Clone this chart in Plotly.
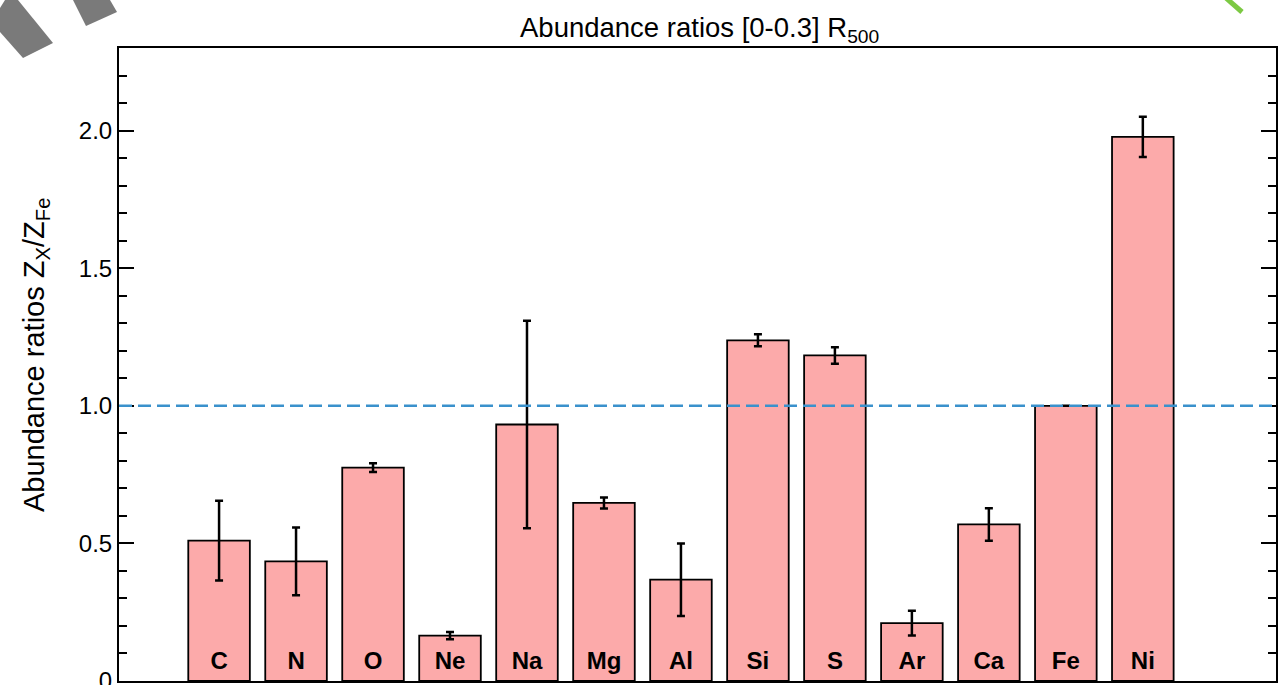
import plotly.graph_objects as go

elements = ["C", "N", "O", "Ne", "Na", "Mg", "Al", "Si", "S", "Ar", "Ca", "Fe", "Ni"]
ratios = [0.51, 0.435, 0.775, 0.165, 0.932, 0.647, 0.368, 1.238, 1.183, 0.21, 0.569, 1.0, 1.977]
errors = [0.145, 0.123, 0.016, 0.013, 0.377, 0.02, 0.132, 0.022, 0.03, 0.045, 0.059, 0.0, 0.073]
ytick_vals = [0, 0.5, 1.0, 1.5, 2.0]
ytick_text = ["0", "0.5", "1.0", "1.5", "2.0"]
label_y = 0.067
ref_level = 1.0

W, H = 1280, 685
L, R, T, B = 119, 4, 48, 4
PW, PH = W - L - R, H - T - B

def px(x, y):
    return (x - L) / PW, (H - B - y) / PH

def poly(points):
    parts = []
    for i, (x, y) in enumerate(points):
        a, b = px(x, y)
        parts.append(("M" if i == 0 else "L") + f"{a:.5f},{b:.5f}")
    return " ".join(parts) + " Z"

FONT = "Liberation Sans, Arial, Helvetica, sans-serif"
xs = list(range(len(elements)))

fig = go.Figure()
fig.add_trace(go.Bar(
    x=xs, y=ratios, width=0.8,
    marker=dict(color="#FCAAAA", line=dict(color="black", width=1.8)),
    error_y=dict(type="data", array=errors, visible=True, color="black", thickness=2.5, width=4),
    showlegend=False,
))
fig.add_trace(go.Scatter(
    x=xs, y=[label_y] * len(xs), mode="text", text=elements,
    textfont=dict(family=FONT, size=24, color="black", weight="bold"),
    textposition="middle center", showlegend=False, hoverinfo="skip",
))

fig.add_shape(type="line", xref="paper", yref="y", x0=0, x1=1, y0=ref_level, y1=ref_level,
              line=dict(color="#3A91CC", width=2.5, dash="13px,6px"), layer="above")

# decorative fragments at the top corners
fig.add_shape(type="path", xref="paper", yref="paper", fillcolor="#7A7A7A", line=dict(width=0),
              path=poly([(0, 8), (0, 32), (23, 58), (53, 43), (18, 0), (5, 0)]))
fig.add_shape(type="path", xref="paper", yref="paper", fillcolor="#7A7A7A", line=dict(width=0),
              path=poly([(73, 0), (86, 26), (117, 12), (110, 0)]))
x0, y0 = px(1226, -2)
x1, y1 = px(1242, 12)
fig.add_shape(type="line", xref="paper", yref="paper", x0=x0, y0=y0, x1=x1, y1=y1,
              line=dict(color="#7CC943", width=5))

fig.add_annotation(text="Abundance ratios [0-0.3] R<sub>500</sub>", xref="paper", yref="paper",
                   x=px(699, 0)[0], y=px(0, 30)[1], xanchor="center", yanchor="middle", showarrow=False,
                   font=dict(family=FONT, size=27.5, color="black"))
fig.add_annotation(text="Abundance ratios Z<sub>X</sub>/Z<sub>Fe</sub>", xref="paper", yref="paper",
                   x=px(36, 0)[0], y=px(0, 355)[1], xanchor="center", yanchor="middle", textangle=-90,
                   showarrow=False, font=dict(family=FONT, size=29, color="black"))

fig.update_layout(
    width=W, height=H,
    margin=dict(l=L, r=R, t=T, b=B, autoexpand=False),
    plot_bgcolor="white", paper_bgcolor="white",
    font=dict(family=FONT, size=24, color="black"),
    bargap=0.2,
)
fig.update_xaxes(range=[-1.3, 13.73], showgrid=False, zeroline=False, showticklabels=False,
                 ticks="", showline=True, linecolor="black", linewidth=2, mirror=True, automargin=False)
fig.update_yaxes(range=[0, 2.3], showgrid=False, zeroline=False, automargin=False,
                 tickvals=ytick_vals, ticktext=ytick_text, ticks="inside", ticklen=15, tickwidth=2,
                 tickcolor="black", showline=True, linecolor="black", linewidth=2, mirror="allticks",
                 tickfont=dict(family=FONT, size=24, color="black"), ticklabeloverflow="allow",
                 minor=dict(dtick=0.1, tick0=0, ticks="inside", ticklen=8, tickwidth=2, tickcolor="black"))

fig.write_html("out.html")
